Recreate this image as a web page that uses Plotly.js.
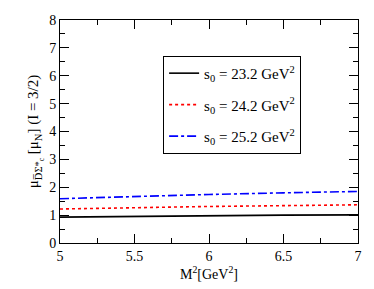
<!DOCTYPE html>
<html><head><meta charset="utf-8">
<script src="https://cdn.plot.ly/plotly-3.0.1.min.js"></script>
<style>body{margin:0;background:#fff}#c{width:374px;height:289px}</style>
</head><body><div id="c"></div>
<script>
const m2 = [5, 5.5, 6, 6.5, 7];
const mu_s232 = [0.93, 0.96, 0.98, 1.00, 1.01];
const mu_s242 = [1.22, 1.27, 1.31, 1.34, 1.37];
const mu_s252 = [1.59, 1.67, 1.74, 1.80, 1.85];
const names = ['s<sub>0</sub> = 23.2 GeV<sup>2</sup>', 's<sub>0</sub> = 24.2 GeV<sup>2</sup>', 's<sub>0</sub> = 25.2 GeV<sup>2</sup>'];
const xTicks = [5, 5.5, 6, 6.5, 7];
const yTicks = [0, 1, 2, 3, 4, 5, 6, 7, 8];

const FAM = 'Liberation Serif';
const traces = [
  {x: m2, y: mu_s232, name: names[0], legendgroup: 'a', line: {color: '#000', width: 1.6, dash: 'solid'}},
  {x: m2, y: mu_s242, name: names[1], legendgroup: 'b', line: {color: '#ff0000', width: 1.6, dash: 'dot'}},
  {x: m2, y: mu_s252, name: names[2], legendgroup: 'c', line: {color: '#0000ff', width: 1.6, dash: 'dashdot'}}
].map(t => Object.assign({type: 'scatter', mode: 'lines'}, t));

const axisCommon = {
  showgrid: false, zeroline: false, showline: true, linecolor: '#000', linewidth: 1,
  mirror: 'ticks', ticks: 'inside', ticklen: 9, tickcolor: '#000', tickwidth: 1,
  tickfont: {family: FAM, size: 14, color: '#000'}
};
const layout = {
  width: 374, height: 289,
  margin: {l: 60, r: 16, t: 20, b: 46},
  paper_bgcolor: '#fff', plot_bgcolor: '#fff',
  font: {family: FAM, color: '#000'},
  xaxis: Object.assign({}, axisCommon, {
    range: [5, 7], tickvals: xTicks, ticktext: xTicks.map(String),
    minor: {dtick: 0.25, ticks: 'inside', ticklen: 5, tickcolor: '#000'},
    title: {text: 'M<sup>2</sup>[GeV<sup>2</sup>]', font: {family: FAM, size: 14, color: '#000'}, standoff: 2}
  }),
  yaxis: Object.assign({}, axisCommon, {
    range: [0, 8], tickvals: yTicks, ticktext: yTicks.map(String),
    minor: {dtick: 0.5, ticks: 'inside', ticklen: 5, tickcolor: '#000'},
    title: {text: 'μ<sub>D̅Σ*<sub>c</sub></sub> [μ<sub>N</sub>] (I = 3/2)', font: {family: FAM, size: 15, color: '#000'}, standoff: 6}
  }),
  legend: {
    x: 0.346, y: 0.839, xanchor: 'left', yanchor: 'top',
    bgcolor: '#fff', bordercolor: '#000', borderwidth: 1,
    font: {family: FAM, size: 15, color: '#000'}, tracegroupgap: 9
  },
  showlegend: true
};
Plotly.newPlot('c', traces, layout, {staticPlot: true, displayModeBar: false});
</script></body></html>
